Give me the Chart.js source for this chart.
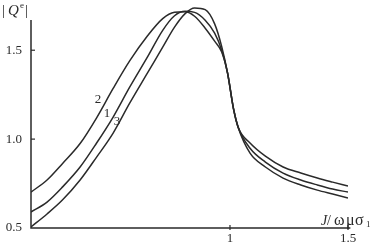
<!DOCTYPE html>
<html><head><meta charset="utf-8">
<script src="https://cdn.jsdelivr.net/npm/chart.js@4"></script>
<style>html,body{margin:0;padding:0;background:#fff}canvas{display:block}</style>
</head><body>
<canvas id="c" width="373" height="244"></canvas>
<script>
const xValues = [0.157,0.225,0.29,0.365,0.435,0.505,0.575,0.65,0.715,0.765,0.81,0.85,0.895,0.935,0.965,0.99,1.015,1.035,1.085,1.15,1.225,1.30,1.37,1.435,1.50];
const curve1 = [0.590,0.646,0.730,0.843,0.978,1.124,1.292,1.461,1.612,1.694,1.719,1.713,1.669,1.596,1.500,1.370,1.170,1.065,0.949,0.871,0.809,0.770,0.742,0.719,0.702];
const curve2 = [0.702,0.770,0.862,0.975,1.120,1.285,1.440,1.580,1.678,1.713,1.716,1.691,1.624,1.551,1.490,1.370,1.170,1.065,0.921,0.843,0.781,0.742,0.713,0.691,0.669];
const curve3 = [0.506,0.579,0.657,0.770,0.899,1.034,1.202,1.371,1.517,1.630,1.706,1.738,1.728,1.648,1.520,1.370,1.170,1.065,0.978,0.904,0.843,0.809,0.781,0.758,0.736];
const xTicks = [1, 1.5];
const yTicks = [0.5, 1.0, 1.5];
const curveLabels = [{t:'2', x:0.441, y:1.202}, {t:'1', x:0.479, y:1.124}, {t:'3', x:0.521, y:1.079}];

const serif = '"Liberation Serif","Times New Roman",serif';
const ink = '#2a2a2a';
function pts(ys){ return xValues.map((x,i)=>({x:x,y:ys[i]})); }
function ds(ys){ return {data:pts(ys), borderColor:ink, borderWidth:1.5, pointRadius:0, cubicInterpolationMode:'monotone', fill:false}; }

const axesPlugin = {
  id:'axes',
  afterDatasetsDraw(chart){
    const c = chart.ctx, xs = chart.scales.x, ys = chart.scales.y;
    const x0 = xs.getPixelForValue(xs.min), y0 = ys.getPixelForValue(0.5);
    c.save();
    c.strokeStyle = ink; c.lineWidth = 1.5;
    c.beginPath();
    c.moveTo(x0, ys.getPixelForValue(1.67)); c.lineTo(x0, y0);
    c.lineTo(xs.getPixelForValue(1.51), y0);
    c.stroke();
    c.lineWidth = 1.2;
    [1.0,1.5].forEach(v=>{ const p=ys.getPixelForValue(v); c.beginPath(); c.moveTo(x0,p); c.lineTo(x0+4,p); c.stroke(); });
    xTicks.forEach(v=>{ const p=xs.getPixelForValue(v); c.beginPath(); c.moveTo(p,y0-3); c.lineTo(p,y0+2); c.stroke(); });
    c.fillStyle = ink;
    c.textBaseline = 'alphabetic';
    c.font = '13px ' + serif;
    curveLabels.forEach(l=>{ c.textAlign='center'; c.fillText(l.t, xs.getPixelForValue(l.x), ys.getPixelForValue(l.y)); });
    c.textAlign='left';
    c.font = '15px ' + serif; c.fillText('|', 2, 15);
    c.font = 'italic 15px ' + serif; c.fillText('Q', 8, 15);
    c.font = '9px ' + serif; c.fillText('e', 20, 8);
    c.font = '15px ' + serif; c.fillText('|', 25, 15);
    const bl = 225;
    c.font = 'italic 14px ' + serif; c.fillText('J', 321, bl);
    c.font = '14px ' + serif;
    c.fillText('/', 327, bl);
    c.font = '16px ' + serif;
    c.fillText('ω', 334, bl);
    c.fillText('μ', 346, bl);
    c.fillText('σ', 355, bl);
    c.font = '9px ' + serif; c.fillText('1', 366, bl+2);
    c.restore();
  }
};

function build(){
new Chart(document.getElementById('c'), {
  type:'line',
  data:{ datasets:[ds(curve1), ds(curve2), ds(curve3)] },
  options:{
    responsive:false, animation:false,
    layout:{padding:{top:4,right:25,left:0,bottom:0}},
    plugins:{legend:{display:false}, tooltip:{enabled:false}},
    scales:{
      x:{ type:'linear', min:0.157, max:1.5,
          grid:{display:false, drawTicks:false}, border:{display:false},
          afterBuildTicks(s){ s.ticks = xTicks.map(v=>({value:v})); },
          afterFit(s){ s.height = 16; s.paddingLeft = 0; s.paddingRight = 0; },
          ticks:{ color:ink, padding:3, font:{family:serif, size:13}, callback:(v)=>String(v) } },
      y:{ type:'linear', min:0.5, max:1.76,
          grid:{display:false, drawTicks:false}, border:{display:false},
          afterBuildTicks(s){ s.ticks = yTicks.map(v=>({value:v})); },
          afterFit(s){ s.width = 31; s.paddingTop = 0; s.paddingBottom = 0; },
          ticks:{ color:ink, padding:9, font:{family:serif, size:13}, callback:(v)=>Number(v).toFixed(1) } }
    }
  },
  plugins:[axesPlugin]
});
}
Promise.all([document.fonts.load('13px "Liberation Serif"'), document.fonts.load('italic 13px "Liberation Serif"')]).then(build, build);
</script>
</body></html>
